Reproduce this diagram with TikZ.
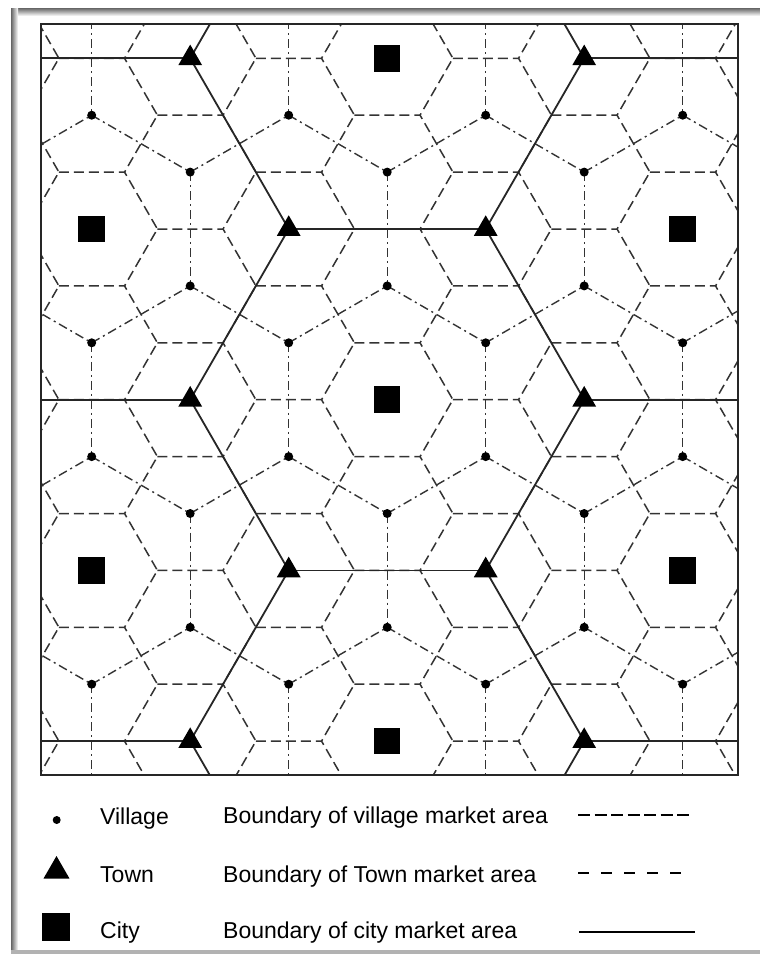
\documentclass[tikz,border=0pt]{standalone}
\usepackage{fontspec}
\setmainfont{Liberation Sans}
\usetikzlibrary{shapes.geometric,calc}
\newcommand{\cptype}[2]{\pgfmathtruncatemacro{\cpt}{(mod(#1+#2,2)==0)*(1+(mod(#2,3)==0)*(1+(mod(#1,3)==0)))}}
\begin{document}
\begin{tikzpicture}[x=1pt,y=-1pt,
  vbound/.style={line width=1.5pt, dash pattern=on 10pt off 5pt, black!80},
  tbound/.style={line width=1.4pt, dash pattern=on 9pt off 4pt on 2pt off 4pt, black!80},
  cbound/.style={line width=1.8pt, black!85},
  village/.style={circle, fill=black, inner sep=0pt, minimum size=9pt},
  town/.style={regular polygon, regular polygon sides=3, fill=black, inner sep=0pt, minimum size=27.5pt},
  city/.style={rectangle, fill=black, inner sep=0pt, minimum size=26.5pt},
  lab/.style={anchor=base west, inner sep=0pt, font=\fontsize{23}{27}\selectfont},
]
\useasboundingbox (0,0) rectangle (760,954);
\fill[white] (0,0) rectangle (760,954);
% outer photo border
\shade[top color=black!60, bottom color=white] (11,8) rectangle (760,16);
\shade[left color=black!60, right color=white] (11,8) rectangle (18,954);
\fill[black!30] (11,950) rectangle (760,954);

% lattice coordinates: c = i-3, r = j-6
\foreach \i in {0,...,13}{
  \foreach \j in {0,...,24}{
    \coordinate (q\i-\j) at ({91.7+98.5*(\i-3)},{58.3+56.9*(\j-6)});
  }
}

\begin{scope}
\clip (41,24) rectangle (738,775);
% village market area boundaries (Voronoi edges of all places)
\foreach \i in {1,...,11}{
  \foreach \j in {3,...,21}{
    \cptype{\i}{\j}
    \ifnum\cpt>0
      \draw[vbound] ($(q\i-\j)+(-32.85,-56.9)$) -- ++(65.7,0) -- ++(32.85,56.9) -- ++(-32.85,56.9);
    \fi
  }
}
% town market area boundaries (village to village)
\foreach \i in {1,...,11}{
  \foreach \j in {3,...,21}{
    \cptype{\i}{\j}\let\ta\cpt
    \ifnum\ta=1
      \foreach \di/\dj in {0/2,1/1,1/-1}{
        \pgfmathtruncatemacro{\ni}{\i+\di}\pgfmathtruncatemacro{\nj}{\j+\dj}
        \cptype{\ni}{\nj}
        \ifnum\cpt=1 \draw[tbound] (q\i-\j) -- (q\ni-\nj); \fi
      }
    \fi
  }
}
% city market area boundaries (town to town)
\foreach \i in {1,...,11}{
  \foreach \j in {3,...,21}{
    \cptype{\i}{\j}\let\ta\cpt
    \ifnum\ta=2
      \foreach \di/\dj in {2/0,1/3,1/-3}{
        \pgfmathtruncatemacro{\ni}{\i+\di}\pgfmathtruncatemacro{\nj}{\j+\dj}
        \cptype{\ni}{\nj}
        \ifnum\cpt=2 \draw[cbound] (q\i-\j) -- (q\ni-\nj); \fi
      }
    \fi
  }
}
% places
\foreach \i in {1,...,11}{
  \foreach \j in {3,...,21}{
    \cptype{\i}{\j}
    \ifcase\cpt
    \or \node[village] (v\i-\j) at (q\i-\j) {};
    \or \node[town] (t\i-\j) at (q\i-\j) {};
    \or \node[city] (c\i-\j) at (q\i-\j) {};
    \fi
  }
}
\end{scope}
\draw[line width=2.5pt, black!85] (41,24) rectangle (738,775);

% legend
\node[village, minimum size=8pt] (lv) at (56.7,820) {};
\node[town, minimum size=30pt] (lt) at (56.5,871) {};
\node[city, minimum size=28pt] (lc) at (56,927) {};
\node[lab] (lvt) at (100,824) {Village};
\node[lab] (ltt) at (100,882) {Town};
\node[lab] (lct) at (100,938) {City};
\node[lab] (lvb) at (223,823) {Boundary of village market area};
\node[lab] (ltb) at (223,882) {Boundary of Town market area};
\node[lab] (lcb) at (223,938) {Boundary of city market area};
\coordinate (lva) at (578,815); \coordinate (lvz) at (692,815);
\coordinate (lta) at (578,873); \coordinate (ltz) at (683,873);
\coordinate (lca) at (579,932); \coordinate (lcz) at (695,932);
\draw[line width=2pt, dash pattern=on 12pt off 4.5pt] (lva) -- (lvz);
\draw[line width=2pt, dash pattern=on 11pt off 12pt] (lta) -- (ltz);
\draw[line width=2.8pt] (lca) -- (lcz);
\end{tikzpicture}
\end{document}
